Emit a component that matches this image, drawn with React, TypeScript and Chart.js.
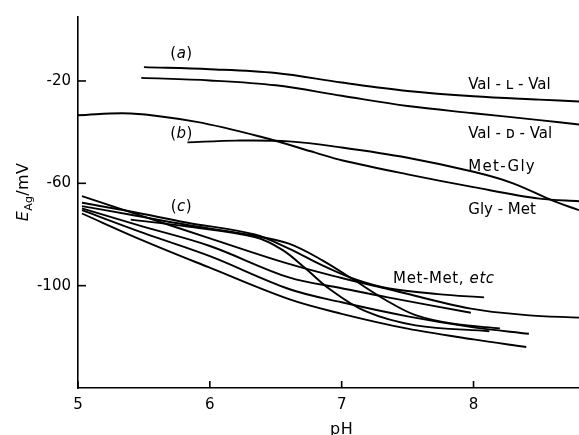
import React, { useEffect, useRef } from "react";
import { Chart, registerables } from "chart.js";

Chart.register(...registerables);

// ---------- data (pH, E_Ag / mV) ----------
const valLValPH = [5.5, 6.0, 6.5, 7.0, 7.5, 8.0, 8.5, 8.8];
const valLValE = [-14.6, -15.4, -16.9, -20.6, -23.9, -26.0, -27.3, -28.0];

const valDValPH = [5.48, 6.0, 6.5, 7.0, 7.5, 8.0, 8.5, 8.8];
const valDValE = [-18.8, -19.8, -21.7, -25.8, -29.8, -32.6, -35.3, -37.0];

const glyMetPH = [5.0, 5.4, 5.9, 6.4, 6.8, 7.0, 7.5, 8.0, 8.5, 8.8];
const glyMetE = [-33.4, -32.7, -36.0, -42.0, -48.0, -51.0, -56.5, -61.5, -66.0, -67.0];

const metGlyPH = [5.83, 6.2, 6.6, 7.0, 7.5, 8.0, 8.3, 8.6, 8.8];
const metGlyE = [-44.0, -43.3, -43.6, -46.0, -50.0, -55.5, -60.0, -66.8, -70.5];

const c1PH = [5.03, 5.4, 5.82, 6.34, 6.6, 6.85, 7.1, 7.35, 7.73, 8.08];
const c1E = [-67.6, -71.0, -75.3, -80.0, -85.5, -92.0, -97.5, -101.0, -103.3, -104.6];

const c2PH = [5.03, 5.4, 5.82, 6.34, 6.6, 6.85, 7.1, 7.33, 7.56, 7.86, 8.2];
const c2E = [-68.9, -72.3, -76.2, -80.5, -83.6, -90.0, -98.0, -105.5, -111.5, -115.0, -116.7];

const c3PH = [5.4, 5.82, 6.34, 6.55, 6.72, 6.9, 7.18, 7.56, 8.12];
const c3E = [-74.2, -76.8, -81.0, -86.0, -93.0, -101.0, -110.0, -115.5, -117.8];

const c4PH = [5.03, 5.5, 6.0, 6.6, 7.0, 7.35, 7.98, 8.4, 8.8];
const c4E = [-65.0, -73.0, -81.5, -91.5, -97.0, -101.3, -109.0, -111.5, -112.5];

const c5PH = [5.03, 5.5, 6.0, 6.6, 7.0, 7.35, 7.98];
const c5E = [-69.8, -77.0, -84.5, -96.8, -101.0, -104.6, -110.6];

const c6PH = [5.03, 5.5, 6.0, 6.6, 7.0, 7.5, 8.0, 8.42];
const c6E = [-70.5, -79.5, -88.5, -101.3, -106.5, -112.0, -116.3, -118.8];

const c7PH = [5.03, 5.49, 5.99, 6.6, 7.0, 7.5, 8.0, 8.4];
const c7E = [-71.8, -82.3, -92.8, -105.3, -111.0, -116.8, -121.0, -124.0];

const xTickValues = [5, 6, 7, 8];
const yTickValues = [-100, -60, -20];

const curves: [number[], number[]][] = [
  [valLValPH, valLValE],
  [valDValPH, valDValE],
  [glyMetPH, glyMetE],
  [metGlyPH, metGlyE],
  [c1PH, c1E],
  [c2PH, c2E],
  [c3PH, c3E],
  [c4PH, c4E],
  [c5PH, c5E],
  [c6PH, c6E],
  [c7PH, c7E],
];

// ---------- styling ----------
const FAMILY = "'DejaVu Sans', sans-serif";
const F = (size: number, style = "") => `${style} ${size}px ${FAMILY}`.trim();

type Run = { t: string; font: string; dy?: number };
const paren = (ch: string): Run[] => [
  { t: "(", font: F(15) },
  { t: ch, font: F(15, "italic") },
  { t: ")", font: F(15) },
];

const annotations: { runs: Run[]; pH: number; E: number; align: "left" | "center"; spacing: number }[] = [
  { runs: paren("a"), pH: 5.785, E: -8.7, align: "center", spacing: 0.5 },
  { runs: paren("b"), pH: 5.785, E: -40.2, align: "center", spacing: 0.5 },
  { runs: paren("c"), pH: 5.785, E: -68.5, align: "center", spacing: 0.5 },
  { runs: [{ t: "Val - ʟ - Val", font: F(15) }], pH: 7.96, E: -20.9, align: "left", spacing: 0 },
  { runs: [{ t: "Val - ᴅ - Val", font: F(15) }], pH: 7.96, E: -40.0, align: "left", spacing: 0 },
  { runs: [{ t: "Met-Gly", font: F(15) }], pH: 7.96, E: -53.0, align: "left", spacing: 1.3 },
  { runs: [{ t: "Gly - Met", font: F(15) }], pH: 7.96, E: -69.7, align: "left", spacing: 0 },
  {
    runs: [
      { t: "Met-Met, ", font: F(15) },
      { t: "etc", font: F(15, "italic") },
    ],
    pH: 7.39,
    E: -96.9,
    align: "left",
    spacing: 0.6,
  },
];

function setSpacing(ctx: CanvasRenderingContext2D, px: number) {
  try {
    (ctx as any).letterSpacing = `${px}px`;
  } catch (e) {
    /* ignore */
  }
}

function drawRuns(
  ctx: CanvasRenderingContext2D,
  runs: Run[],
  x: number,
  y: number,
  align: "left" | "center",
  spacing: number
) {
  setSpacing(ctx, spacing);
  let total = 0;
  runs.forEach((r) => {
    ctx.font = r.font;
    total += ctx.measureText(r.t).width;
  });
  let cx = align === "center" ? x - total / 2 : x;
  runs.forEach((r) => {
    ctx.font = r.font;
    ctx.fillText(r.t, cx, y + (r.dy || 0));
    cx += ctx.measureText(r.t).width;
  });
  setSpacing(ctx, 0);
}

const overlayPlugin = {
  id: "overlay",
  afterDraw(chart: any) {
    const ctx: CanvasRenderingContext2D = chart.ctx;
    const xs = chart.scales.x;
    const ys = chart.scales.y;
    const area = chart.chartArea;
    ctx.save();
    ctx.strokeStyle = "#000";
    ctx.fillStyle = "#000";
    ctx.lineWidth = 1.6;
    // inward tick marks
    xTickValues.forEach((v) => {
      const px = xs.getPixelForValue(v);
      ctx.beginPath();
      ctx.moveTo(px, area.bottom);
      ctx.lineTo(px, area.bottom - 7);
      ctx.stroke();
    });
    yTickValues.forEach((v) => {
      const py = ys.getPixelForValue(v);
      ctx.beginPath();
      ctx.moveTo(area.left - 1, py);
      ctx.lineTo(area.left + 8, py);
      ctx.stroke();
    });
    // annotations
    ctx.textBaseline = "alphabetic";
    ctx.textAlign = "left";
    annotations.forEach((a) => {
      const px = xs.getPixelForValue(a.pH);
      const py = ys.getPixelForValue(a.E) + 5.5;
      drawRuns(ctx, a.runs, px, py, a.align, a.spacing);
    });
    // x axis title
    drawRuns(ctx, [{ t: "pH", font: F(16) }], xs.getPixelForValue(7), 434, "center", 0.5);
    // y axis title (rotated)
    ctx.save();
    ctx.translate(28, 192);
    ctx.rotate(-Math.PI / 2);
    drawRuns(
      ctx,
      [
        { t: "E", font: F(16, "italic") },
        { t: "Ag", font: F(11), dy: 4 },
        { t: "/mV", font: F(16) },
      ],
      0,
      0,
      "center",
      0.3
    );
    ctx.restore();
    ctx.restore();
  },
};

export default function App() {
  const canvasRef = useRef<HTMLCanvasElement | null>(null);

  useEffect(() => {
    if (!canvasRef.current) return;
    const datasets = curves.map(([xs, ys]) => ({
      data: xs.map((x, i) => ({ x, y: ys[i] })),
      borderColor: "#000",
      borderWidth: 1.9,
      pointRadius: 0,
      fill: false,
      tension: 0.35,
    }));
    const chart = new Chart(canvasRef.current, {
      type: "line",
      data: { datasets },
      options: {
        animation: false,
        responsive: false,
        maintainAspectRatio: false,
        layout: { padding: { top: 17, right: 0, left: 0, bottom: 0 } },
        plugins: { legend: { display: false }, tooltip: { enabled: false } },
        scales: {
          x: {
            type: "linear",
            min: 5,
            max: 8.8,
            afterBuildTicks: (s: any) => {
              s.ticks = xTickValues.map((v) => ({ value: v }));
            },
            afterFit: (s: any) => {
              s.height = 47;
            },
            grid: { display: false, drawTicks: false },
            border: { display: true, color: "#000", width: 1.6 },
            ticks: {
              color: "#000",
              font: { family: FAMILY, size: 15 },
              padding: 8,
              maxRotation: 0,
              autoSkip: false,
              callback: (v: any) => String(v),
            },
          },
          y: {
            type: "linear",
            min: -140,
            max: 5,
            afterBuildTicks: (s: any) => {
              s.ticks = yTickValues.map((v) => ({ value: v }));
            },
            afterFit: (s: any) => {
              s.width = 78;
            },
            grid: { display: false, drawTicks: false },
            border: { display: true, color: "#000", width: 1.6 },
            ticks: {
              color: "#000",
              font: { family: FAMILY, size: 15 },
              padding: 7,
              autoSkip: false,
              callback: (v: any) => String(v),
            },
          },
        },
      },
      plugins: [overlayPlugin],
    });
    return () => chart.destroy();
  }, []);

  return (
    <div style={{ position: "fixed", left: 0, top: 0, width: 579, height: 435, background: "#fff" }}>
      <canvas ref={canvasRef} width={579} height={435} style={{ display: "block" }} />
    </div>
  );
}
